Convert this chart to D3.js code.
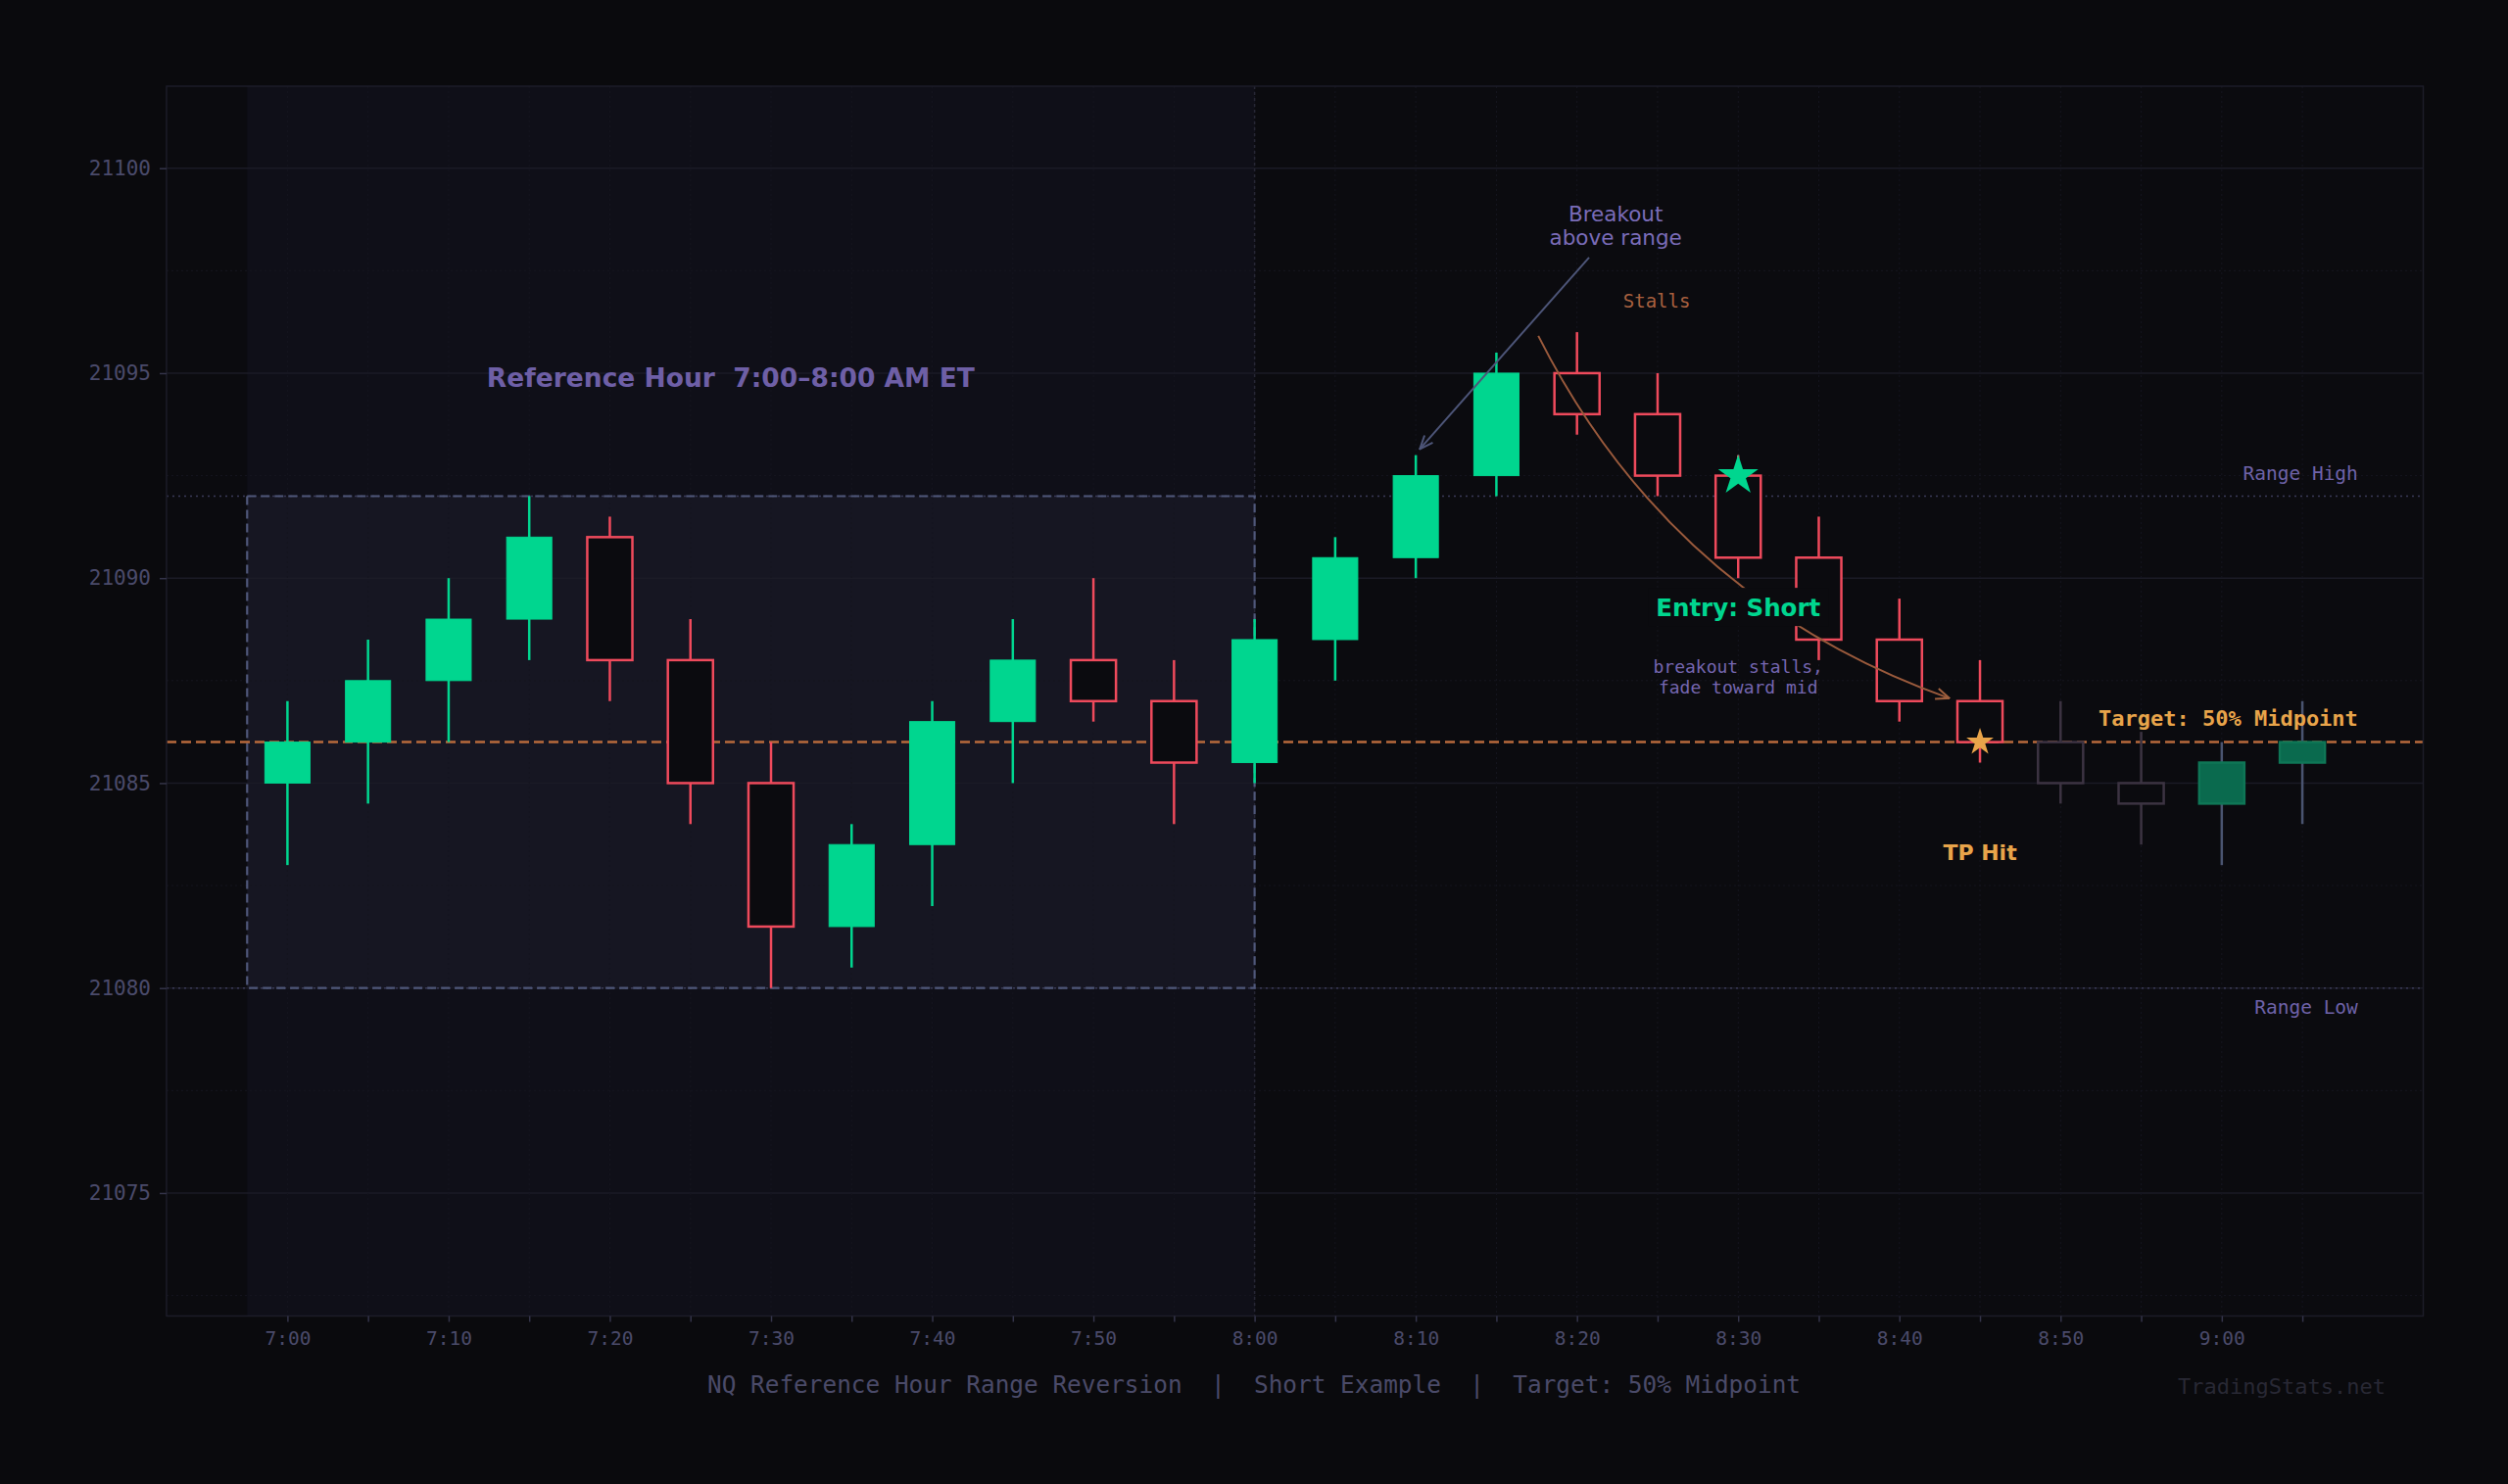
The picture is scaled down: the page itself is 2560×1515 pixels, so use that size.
<!DOCTYPE html>
<html>
<head>
<meta charset="utf-8">
<script src="https://cdn.jsdelivr.net/npm/d3@7"></script>
<style>
  html, body { margin: 0; padding: 0; background: #0a0a0d; }
  svg { display: block; }
  text { white-space: pre; }
</style>
</head>
<body>
<svg id="chart" width="2560" height="1515"></svg>
<script>
// 5-minute NQ candles, 7:00 to 9:05 ET
const times = ["7:00","7:05","7:10","7:15","7:20","7:25","7:30","7:35","7:40","7:45","7:50","7:55",
               "8:00","8:05","8:10","8:15","8:20","8:25","8:30","8:35","8:40","8:45","8:50","8:55","9:00","9:05"];
const opens  = [21085, 21086, 21087.5, 21089, 21091, 21088, 21085, 21081.5, 21083.5, 21086.5, 21088, 21087,
                21085.5, 21088.5, 21090.5, 21092.5, 21095, 21094, 21092.5, 21090.5, 21088.5, 21087, 21086, 21085, 21084.5, 21085.5];
const highs  = [21087, 21088.5, 21090, 21092, 21091.5, 21089, 21086, 21084, 21087, 21089, 21090, 21088,
                21089, 21091, 21093, 21095.5, 21096, 21095, 21093, 21091.5, 21089.5, 21088, 21087, 21086.25, 21086, 21087];
const lows   = [21083, 21084.5, 21086, 21088, 21087, 21084, 21080, 21080.5, 21082, 21085, 21086.5, 21084,
                21085, 21087.5, 21090, 21092, 21093.5, 21092, 21090, 21088, 21086.5, 21085.5, 21084.5, 21083.5, 21083, 21084];
const closes = [21086, 21087.5, 21089, 21091, 21088, 21085, 21081.5, 21083.5, 21086.5, 21088, 21087, 21085.5,
                21088.5, 21090.5, 21092.5, 21095, 21094, 21092.5, 21090.5, 21088.5, 21087, 21086, 21085, 21084.5, 21085.5, 21086];
const fadedFrom = 22;            // candles after the target was hit

const yTicks = [21075, 21080, 21085, 21090, 21095, 21100];
const xTickLabels = ["7:00","7:10","7:20","7:30","7:40","7:50","8:00","8:10","8:20","8:30","8:40","8:50","9:00"];

const rangeHigh = 21092, rangeLow = 21080, midpoint = 21086;
const refStart = -0.5, refEnd = 12;   // candle index bounds of the reference hour
const entryIdx = 18, entryPrice = 21092.5;
const tpIdx = 21, tpPrice = 21086;

const candles = times.map((t, i) => ({
  i, t, o: opens[i], h: highs[i], l: lows[i], c: closes[i], faded: i >= fadedFrom
}));

const svg = d3.select('#chart');
const plot = { left: 170, right: 2473.5, top: 88, bottom: 1343.5 };

const x = d3.scaleLinear().domain([-1.5, 26.5]).range([plot.left, plot.right]);
const y = d3.scaleLinear().domain([21072, 21102]).range([plot.bottom, plot.top]);

const GREEN = '#00d68f', RED = '#ef4a5c', ORANGE = '#e8a44a', PURPLE = '#7566b0';
const MONO = '"DejaVu Sans Mono", monospace', SANS = '"DejaVu Sans", sans-serif';

svg.append('rect').attr('width', 2560).attr('height', 1515).attr('fill', '#0a0a0d');

const defs = svg.append('defs');
defs.append('clipPath').attr('id', 'clip')
  .append('rect').attr('x', plot.left).attr('y', plot.top)
  .attr('width', plot.right - plot.left).attr('height', plot.bottom - plot.top);

function arrowMarker(id, color) {
  defs.append('marker').attr('id', id)
    .attr('viewBox', '0 0 10 10').attr('refX', 9.5).attr('refY', 5)
    .attr('markerWidth', 16).attr('markerHeight', 16)
    .attr('markerUnits', 'userSpaceOnUse').attr('orient', 'auto')
    .append('path').attr('d', 'M1,1.5 L9.5,5 L1,8.5')
    .attr('fill', 'none').attr('stroke', color).attr('stroke-width', 1.3);
}
arrowMarker('headGrey', '#4d5578');
arrowMarker('headBrown', '#a0603e');

// plot background + reference-hour shading
svg.append('rect')
  .attr('x', plot.left).attr('y', plot.top)
  .attr('width', plot.right - plot.left).attr('height', plot.bottom - plot.top)
  .attr('fill', '#0b0b0f');

const g = svg.append('g').attr('clip-path', 'url(#clip)');

g.append('rect')
  .attr('x', x(refStart)).attr('y', plot.top)
  .attr('width', x(refEnd) - x(refStart)).attr('height', plot.bottom - plot.top)
  .attr('fill', '#0f0f18');

g.append('rect')
  .attr('x', x(refStart)).attr('y', y(rangeHigh))
  .attr('width', x(refEnd) - x(refStart)).attr('height', y(rangeLow) - y(rangeHigh))
  .attr('fill', '#161622');

// grid
const minorY = d3.range(21072.5, 21102, 2.5).filter(v => v % 5 !== 0);
g.selectAll('.gy-minor').data(minorY).join('line')
  .attr('x1', plot.left).attr('x2', plot.right)
  .attr('y1', d => y(d)).attr('y2', d => y(d))
  .attr('stroke', '#16161f').attr('stroke-width', 1).attr('stroke-dasharray', '2,3');
g.selectAll('.gy-major').data(yTicks).join('line')
  .attr('x1', plot.left).attr('x2', plot.right)
  .attr('y1', d => y(d)).attr('y2', d => y(d))
  .attr('stroke', '#1b1b26').attr('stroke-width', 1.5);
g.selectAll('.gx').data(candles).join('line')
  .attr('x1', d => x(d.i)).attr('x2', d => x(d.i))
  .attr('y1', plot.top).attr('y2', plot.bottom)
  .attr('stroke', '#15151f').attr('stroke-width', 1).attr('stroke-dasharray', '2,3');

// 8:00 separator
g.append('line')
  .attr('x1', x(refEnd)).attr('x2', x(refEnd))
  .attr('y1', plot.top).attr('y2', plot.bottom)
  .attr('stroke', '#262634').attr('stroke-width', 1.5).attr('stroke-dasharray', '3,3');

// range high / low lines
g.selectAll('.range').data([rangeHigh, rangeLow]).join('line')
  .attr('x1', plot.left).attr('x2', plot.right)
  .attr('y1', d => y(d)).attr('y2', d => y(d))
  .attr('stroke', '#3a3a58').attr('stroke-width', 1.6).attr('stroke-dasharray', '2,4');

// reference hour box outline
g.append('rect')
  .attr('x', x(refStart)).attr('y', y(rangeHigh))
  .attr('width', x(refEnd) - x(refStart)).attr('height', y(rangeLow) - y(rangeHigh))
  .attr('fill', 'none').attr('stroke', '#4f5779').attr('stroke-width', 2.2)
  .attr('stroke-dasharray', '9,5');

// midpoint target
g.append('line')
  .attr('x1', plot.left).attr('x2', plot.right)
  .attr('y1', y(midpoint)).attr('y2', y(midpoint))
  .attr('stroke', '#b86a3c').attr('stroke-width', 2.5).attr('stroke-dasharray', '10,5');

// candles
const bw = x(0.56) - x(0);
const cg = g.append('g');
function wickColor(d) {
  if (d.faded) return d.c >= d.o ? '#4a5470' : '#3c3342';
  return d.c >= d.o ? GREEN : RED;
}
cg.selectAll('.wick').data(candles).join('line')
  .attr('x1', d => x(d.i)).attr('x2', d => x(d.i))
  .attr('y1', d => y(d.h)).attr('y2', d => y(d.l))
  .attr('stroke', wickColor).attr('stroke-width', 2.5);
cg.selectAll('.body').data(candles).join('rect')
  .attr('x', d => x(d.i) - bw / 2)
  .attr('y', d => y(Math.max(d.o, d.c)))
  .attr('width', bw)
  .attr('height', d => Math.max(1, y(Math.min(d.o, d.c)) - y(Math.max(d.o, d.c))))
  .attr('fill', d => {
    const up = d.c >= d.o;
    if (d.faded) return up ? '#0a6a4e' : '#0b0b0f';
    return up ? GREEN : '#0b0b0f';
  })
  .attr('stroke', d => {
    const up = d.c >= d.o;
    if (d.faded) return up ? '#0f7656' : '#3c3342';
    return up ? GREEN : RED;
  })
  .attr('stroke-width', d => (d.c >= d.o && !d.faded) ? 1 : 2.5);

// markers
g.append('path')
  .attr('d', d3.symbol(d3.symbolStar, 524)())
  .attr('transform', `translate(${x(entryIdx)},${y(entryPrice)})`)
  .attr('fill', GREEN);
g.append('path')
  .attr('d', d3.symbol(d3.symbolStar, 240)())
  .attr('transform', `translate(${x(tpIdx)},${y(tpPrice)})`)
  .attr('fill', ORANGE);

// spine
svg.append('rect')
  .attr('x', plot.left).attr('y', plot.top)
  .attr('width', plot.right - plot.left).attr('height', plot.bottom - plot.top)
  .attr('fill', 'none').attr('stroke', '#1c1c28').attr('stroke-width', 1.5);

// axes
const yAxis = svg.append('g')
  .attr('transform', `translate(${plot.left},0)`)
  .call(d3.axisLeft(y).tickValues(yTicks).tickSize(7).tickPadding(9).tickFormat(d3.format('d')));
const xAxis = svg.append('g')
  .attr('transform', `translate(0,${plot.bottom})`)
  .call(d3.axisBottom(x).tickValues(candles.map(d => d.i)).tickSize(6).tickPadding(10)
    .tickFormat(i => i % 2 === 0 ? xTickLabels[i / 2] : ''));
[yAxis, xAxis].forEach(ax => {
  ax.select('.domain').remove();
  ax.selectAll('.tick line').attr('stroke', '#34344a').attr('stroke-width', 1.5);
  ax.selectAll('.tick text').attr('fill', '#4a4a6a').attr('font-family', MONO);
});
yAxis.selectAll('.tick text').attr('font-size', 21);
xAxis.selectAll('.tick text').attr('font-size', 19.5);

// annotations
function label(txt, xi, yv, opts) {
  const t = svg.append('text')
    .attr('x', x(xi)).attr('y', y(yv))
    .attr('text-anchor', opts.anchor || 'middle')
    .attr('font-family', opts.family || SANS)
    .attr('font-size', opts.size)
    .attr('font-weight', opts.weight || 'normal')
    .attr('fill', opts.color)
    .text(txt);
  return t;
}

label('Reference Hour  7:00\u20138:00 AM ET', 5.5, 21094.67, { size: 26.5, weight: 'bold', color: '#6e5fa6' });

label('Breakout', 16.48, 21098.70, { size: 21.5, color: '#7a6cb8' });
label('above range', 16.48, 21098.13, { size: 21.5, color: '#7a6cb8' });
svg.append('line')
  .attr('x1', x(16.15)).attr('y1', y(21097.82))
  .attr('x2', x(14.05)).attr('y2', y(21093.15))
  .attr('stroke', '#4d5578').attr('stroke-width', 2)
  .attr('marker-end', 'url(#headGrey)');

label('Stalls', 16.99, 21096.60, { size: 19, family: MONO, color: '#a8603f' });

// curved fade arrow (arc3-style quadratic)
const p0 = [x(15.52), y(21095.91)], p2 = [x(20.62), y(21087.07)];
const rad = 0.2;
const dx = p2[0] - p0[0], dy = p2[1] - p0[1];
const ctrl = [(p0[0] + p2[0]) / 2 - rad * dy, (p0[1] + p2[1]) / 2 + rad * dx];
svg.append('path')
  .attr('d', `M${p0[0]},${p0[1]} Q${ctrl[0]},${ctrl[1]} ${p2[0]},${p2[1]}`)
  .attr('fill', 'none').attr('stroke', '#9a5a3c').attr('stroke-width', 2)
  .attr('marker-end', 'url(#headBrown)');

const entry = label('Entry: Short', 18.0, 21089.07, { size: 24.5, weight: 'bold', color: GREEN });
const bb = entry.node().getBBox();
svg.insert('rect', () => entry.node())
  .attr('x', bb.x - 8).attr('y', bb.y - 6)
  .attr('width', bb.width + 16).attr('height', bb.height + 10)
  .attr('fill', '#0b0b0f');

label('breakout stalls,', 18.0, 21087.69, { size: 18, family: MONO, color: PURPLE });
label('fade toward mid', 18.0, 21087.18, { size: 18, family: MONO, color: PURPLE });

label('TP Hit', 21.0, 21083.12, { size: 22, weight: 'bold', color: ORANGE });
label('Target: 50% Midpoint', 25.69, 21086.39, { size: 22, weight: 'bold', family: MONO, color: ORANGE, anchor: 'end' });
label('Range High', 25.69, 21092.39, { size: 19.5, family: MONO, color: '#6e62a8', anchor: 'end' });
label('Range Low', 25.69, 21079.37, { size: 19.5, family: MONO, color: '#6e62a8', anchor: 'end' });

// footer
svg.append('text')
  .attr('x', 1280).attr('y', 1422)
  .attr('text-anchor', 'middle')
  .attr('font-family', MONO).attr('font-size', 24.4)
  .attr('fill', '#4a4a68')
  .text('NQ Reference Hour Range Reversion  |  Short Example  |  Target: 50% Midpoint');
svg.append('text')
  .attr('x', 2435).attr('y', 1423)
  .attr('text-anchor', 'end')
  .attr('font-family', MONO).attr('font-size', 22)
  .attr('fill', '#282834')
  .text('TradingStats.net');
</script>
</body>
</html>
